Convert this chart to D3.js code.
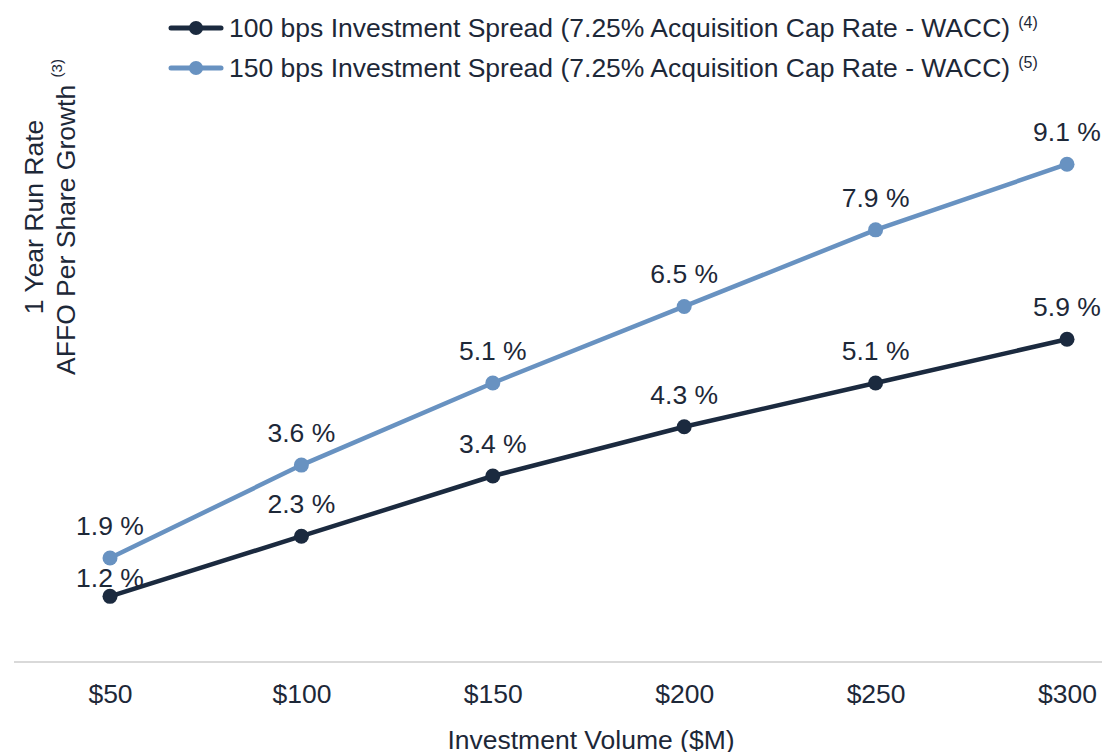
<!DOCTYPE html>
<html>
<head>
<meta charset="utf-8">
<script src="https://cdn.jsdelivr.net/npm/d3@7"></script>
<style>
  body { margin: 0; background: #fff; }
  svg text { font-family: Arial, "Liberation Sans", sans-serif; fill: #1d2838; }
</style>
</head>
<body>
<div id="chart"></div>
<script>
// values
const volumes = ["$50", "$100", "$150", "$200", "$250", "$300"];
const spread100 = [1.2, 2.3, 3.4, 4.3, 5.1, 5.9];
const spread150 = [1.9, 3.6, 5.1, 6.5, 7.9, 9.1];
const seriesNames = [
    "100 bps Investment Spread (7.25% Acquisition Cap Rate - WACC)",
    "150 bps Investment Spread (7.25% Acquisition Cap Rate - WACC)"
];
const seriesNotes = ["(4)", "(5)"];

const w = 1102, h = 752;
const colors = ["#1b2a3f", "#6892c1"];
const fs = "26.5px";

let svg = d3.select("#chart").append("svg")
    .attr("width", w)
    .attr("height", h);

let xScale = d3.scalePoint()
    .domain(volumes)
    .range([110, 1067]);

let yScale = d3.scaleLinear()
    .domain([0, 10])
    .range([662, 115]);

// baseline
svg.append("line")
    .attr("x1", 14).attr("x2", w)
    .attr("y1", yScale(0)).attr("y2", yScale(0))
    .attr("stroke", "#d9d9d9")
    .attr("stroke-width", 2);

let xAxis = d3.axisBottom(xScale).tickSize(0).tickPadding(22);
let gx = svg.append("g")
    .attr("transform", "translate(0," + yScale(0) + ")")
    .call(xAxis);
gx.select(".domain").remove();
gx.selectAll("text")
    .style("font-size", fs)
    .attr("fill", "#1d2838");

svg.append("text")
    .attr("x", 591).attr("y", 749)
    .attr("text-anchor", "middle")
    .style("font-size", fs)
    .text("Investment Volume ($M)");

// y title, two lines, second with a footnote mark
let yt = svg.append("text")
    .attr("transform", "translate(0,217) rotate(-90)")
    .attr("text-anchor", "middle")
    .style("font-size", fs);
yt.append("tspan").attr("x", 0).attr("y", 43).text("1 Year Run Rate");
let line2 = yt.append("tspan").attr("x", 0).attr("y", 75);
line2.append("tspan").text("AFFO Per Share Growth ");
line2.append("tspan")
    .attr("dy", -13)
    .style("font-size", "15px")
    .text("(3)");

let series = [spread100, spread150];

series.forEach(function(vals, s) {
    let pts = vals.map(function(v, i) { return [xScale(volumes[i]), yScale(v)]; });
    svg.append("path")
        .attr("d", d3.line()(pts))
        .attr("fill", "none")
        .attr("stroke", colors[s])
        .attr("stroke-width", 4.5);
    svg.selectAll(".dot" + s)
        .data(vals)
        .enter().append("circle")
        .attr("cx", function(d, i) { return xScale(volumes[i]); })
        .attr("cy", function(d) { return yScale(d); })
        .attr("r", 7.5)
        .attr("fill", colors[s]);
});

// labels drawn after the lines so they sit on top
series.forEach(function(vals, s) {
    svg.selectAll(".lbl" + s)
        .data(vals)
        .enter().append("text")
        .attr("x", function(d, i) { return xScale(volumes[i]); })
        .attr("y", function(d, i) {
            // first label of the lower series is squeezed under the upper dot
            let off = (s === 0 && i === 0) ? 9 : 23;
            return yScale(d) - off;
        })
        .attr("text-anchor", "middle")
        .style("font-size", fs)
        .text(function(d) { return d.toFixed(1) + " %"; });
});

// legend
seriesNames.forEach(function(name, s) {
    let ly = 28 + s * 40;
    let g = svg.append("g");
    g.append("line")
        .attr("x1", 171).attr("x2", 221)
        .attr("y1", ly).attr("y2", ly)
        .attr("stroke", colors[s])
        .attr("stroke-width", 5)
        .attr("stroke-linecap", "round");
    g.append("circle")
        .attr("cx", 196).attr("cy", ly)
        .attr("r", 7)
        .attr("fill", colors[s]);
    let t = g.append("text")
        .attr("x", 229).attr("y", ly + 9)
        .style("font-size", fs)
        .text(name);
    let tw = t.node().getComputedTextLength();
    g.append("text")
        .attr("x", 229 + tw + 8).attr("y", ly)
        .style("font-size", "16px")
        .text(seriesNotes[s]);
});
</script>
</body>
</html>
